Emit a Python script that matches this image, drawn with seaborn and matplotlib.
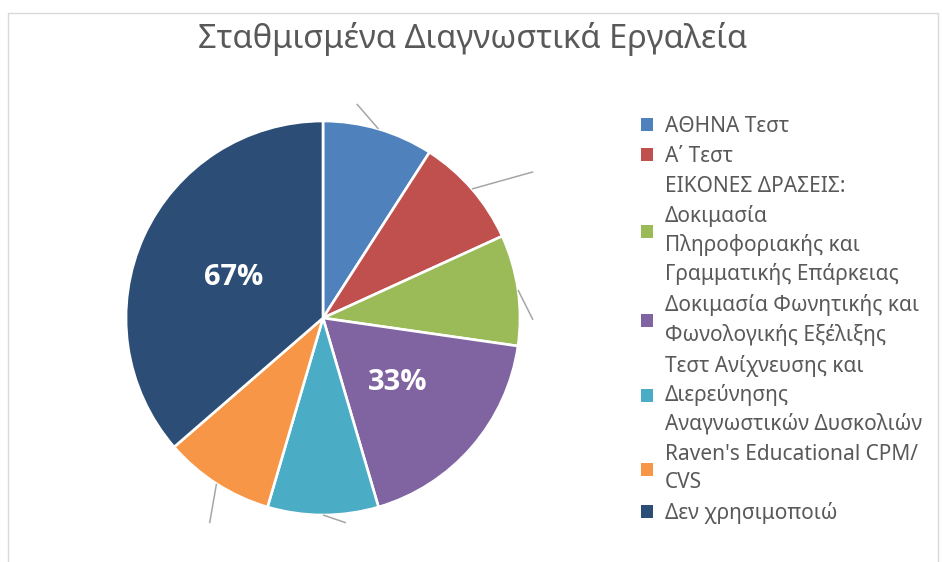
import numpy as np
import matplotlib
matplotlib.use("Agg")
import matplotlib.pyplot as plt
import matplotlib.patches as mpatches
from matplotlib import font_manager
import seaborn as sns

# ---- data -------------------------------------------------------------
categories = [
    "ΑΘΗΝΑ Τεστ",
    "Α΄ Τεστ",
    "ΕΙΚΟΝΕΣ ΔΡΑΣΕΙΣ:\nΔοκιμασία\nΠληροφοριακής και\nΓραμματικής Επάρκειας",
    "Δοκιμασία Φωνητικής και\nΦωνολογικής Εξέλιξης",
    "Τεστ Ανίχνευσης και\nΔιερεύνησης\nΑναγνωστικών Δυσκολιών",
    "Raven's Educational CPM/\nCVS",
    "Δεν χρησιμοποιώ",
]
counts = [1, 1, 1, 2, 1, 1, 4]
data_labels = ["", "", "", "33%", "", "", "67%"]
colors = ["#4F81BD", "#C0504D", "#9BBB59", "#8064A2", "#4BACC6", "#F79646", "#2C4D75"]
title = "Σταθμισμένα Διαγνωστικά Εργαλεία"

# leader lines of the empty labels: (clockwise angle shift in deg, tip radius)
leader_tips = [(-7.4, 1.10), (6.1, 1.30), (8.7, 1.066), None, (-6.4, 1.046), (-3.8, 1.19), None]

# ---- style ------------------------------------------------------------
sns.set_theme(style="white")
plt.rcParams["font.family"] = ["Noto Sans", "DejaVu Sans"]
text_color = "#595959"
palette = sns.color_palette(colors)

# pick a family that really has a bold face for the data labels
bold_family = ["DejaVu Sans"]
for fam in ["Noto Sans", "Open Sans", "Lato", "Roboto"]:
    try:
        path = font_manager.findfont(font_manager.FontProperties(family=fam, weight="bold"),
                                     fallback_to_default=False)
        if "bold" in path.lower():
            bold_family = [fam, "DejaVu Sans"]
            break
    except Exception:
        pass

W, H = 942, 562
fig = plt.figure(figsize=(W / 100, H / 100), dpi=100)
fig.patch.set_facecolor("white")

# chart area outline
fig.patches.append(mpatches.Rectangle((8 / W, -0.05), (938 - 8) / W, 1.05 - 13 / H,
                                      transform=fig.transFigure, fill=False,
                                      edgecolor="#d9d9d9", linewidth=1.0))

# pie axes: centre at (323, 318) px, radius 197 px
R_px, cx, cy = 197, 323, 318
L = 1.35
side = 2 * L * R_px
ax = fig.add_axes([(cx - side / 2) / W, (H - cy - side / 2) / H, side / W, side / H])

wedges, _ = ax.pie(counts, colors=palette, startangle=90, counterclock=False,
                   wedgeprops=dict(edgecolor="white", linewidth=1.9))
ax.set_xlim(-L, L)
ax.set_ylim(-L, L)
ax.set_aspect("equal")
ax.axis("off")

for w, lab, tip in zip(wedges, data_labels, leader_tips):
    mid = np.deg2rad((w.theta1 + w.theta2) / 2)
    if lab:
        ax.text(0.5 * np.cos(mid), 0.5 * np.sin(mid), lab, ha="center", va="center",
                color="white", fontsize=21, fontweight="bold", family=bold_family)
    if tip is not None:
        shift, r_tip = tip
        a_tip = mid - np.deg2rad(shift)
        ax.plot([1.0 * np.cos(mid), r_tip * np.cos(a_tip)],
                [1.0 * np.sin(mid), r_tip * np.sin(a_tip)],
                color="#a6a6a6", linewidth=1.1, clip_on=False, solid_capstyle="butt")

# title
fig.text(473 / W, 1 - 39 / H, title, ha="center", va="center",
         fontsize=23.5, color=text_color)

# legend
handles = [mpatches.Patch(facecolor=c, edgecolor="none") for c in palette]
leg = fig.legend(handles, categories, loc="upper left",
                 bbox_to_anchor=(641 / W, 1 - 116 / H), frameon=False,
                 fontsize=15, handlelength=0.58, handleheight=0.58,
                 handletextpad=0.55, labelspacing=0.44, borderpad=0, borderaxespad=0)
for t in leg.get_texts():
    t.set_color(text_color)
    t.set_linespacing(1.43)

fig.savefig("out.png", dpi=100, facecolor="white")
